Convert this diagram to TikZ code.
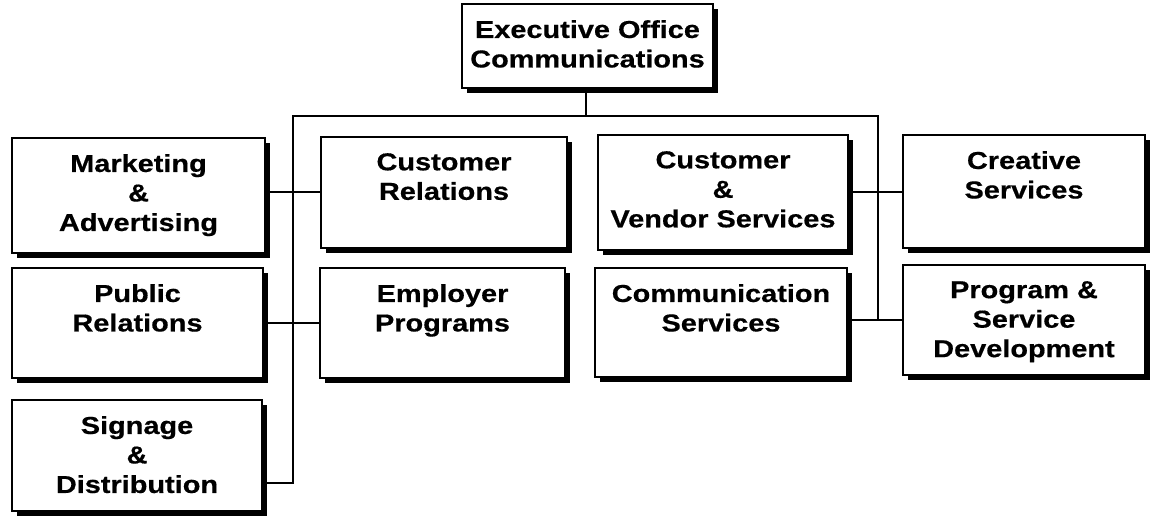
\documentclass[tikz,border=0pt]{standalone}
\usepackage{fontspec}
\setmainfont{Liberation Sans}[FakeStretch=1.18, BoldFeatures={FakeBold=0.5}]
\pgfdeclarelayer{paper}
\pgfdeclarelayer{wires}
\pgfsetlayers{paper,wires,main}
\tikzset{
  x=1pt, y=-1pt,
  orgbox/.style={draw=black, fill=white, line width=1.5pt, inner sep=0pt, outer sep=0pt},
  orglabel/.style={anchor=north, align=center, inner sep=0pt,
    font=\fontsize{24.5}{29.5}\selectfont\bfseries},
  conn/.style={draw=black, line width=2pt, line cap=rect},
  shadowfill/.style={fill=black}
}
\newcommand\orgunit[6]{%
  \fill[shadowfill] ({#2+5},{#3+5}) rectangle ({#4+5},{#5+5});
  \node[orgbox, minimum width={(#4-#2)*1pt}, minimum height={(#5-#3)*1pt}] (#1) at ({(#2+#4)/2},{(#3+#5)/2}) {};
  \node[orglabel] (#1-t) at ([yshift=-16pt]#1.north) {#6};
}
\begin{document}
\begin{tikzpicture}
\begin{pgfonlayer}{paper}
\useasboundingbox[fill=white] (0,0) rectangle (1152,516);
\end{pgfonlayer}
% boxes
\orgunit{exec}{462}{4}{713}{88}{Executive Office\\Communications}
\orgunit{mkt}{12}{138}{265}{253}{Marketing\\\&\\Advertising}
\orgunit{cr}{321}{137}{567}{248}{Customer\\Relations}
\orgunit{cvs}{598}{135}{848}{250}{Customer\\\&\\Vendor Services}
\orgunit{cre}{903}{135}{1145}{248}{Creative\\Services}
\orgunit{pr}{12}{268}{263}{378}{Public\\Relations}
\orgunit{ep}{320}{268}{565}{378}{Employer\\Programs}
\orgunit{cs}{595}{268}{847}{377}{Communication\\Services}
\orgunit{psd}{903}{265}{1145}{375}{Program \&\\Service\\Development}
\orgunit{sig}{12}{400}{262}{511}{Signage\\\&\\Distribution}
% junction points
\coordinate (hl) at (293,116);
\coordinate (hr) at (878,116);
\coordinate (sigc) at ([yshift=-27.5pt]sig.east);
% connectors
\begin{pgfonlayer}{wires}
\draw[conn] ([xshift=-1.5pt]exec.south) -- ([xshift=-1.5pt]exec.south |- hl);
\draw[conn] (hl) -- (hr);
\draw[conn] (hl) -- (hl |- sigc) -- (sigc);
\draw[conn] (cr.west) -- (cr.west -| mkt.east);
\draw[conn] (ep.west) -- (ep.west -| pr.east);
\draw[conn] (cvs.east) -- (cvs.east -| cre.west);
\draw[conn] (hr) -- (hr |- psd.west) -- (psd.west);
\draw[conn] (cs.east |- psd.west) -- (hr |- psd.west);
\end{pgfonlayer}
\end{tikzpicture}
\end{document}
